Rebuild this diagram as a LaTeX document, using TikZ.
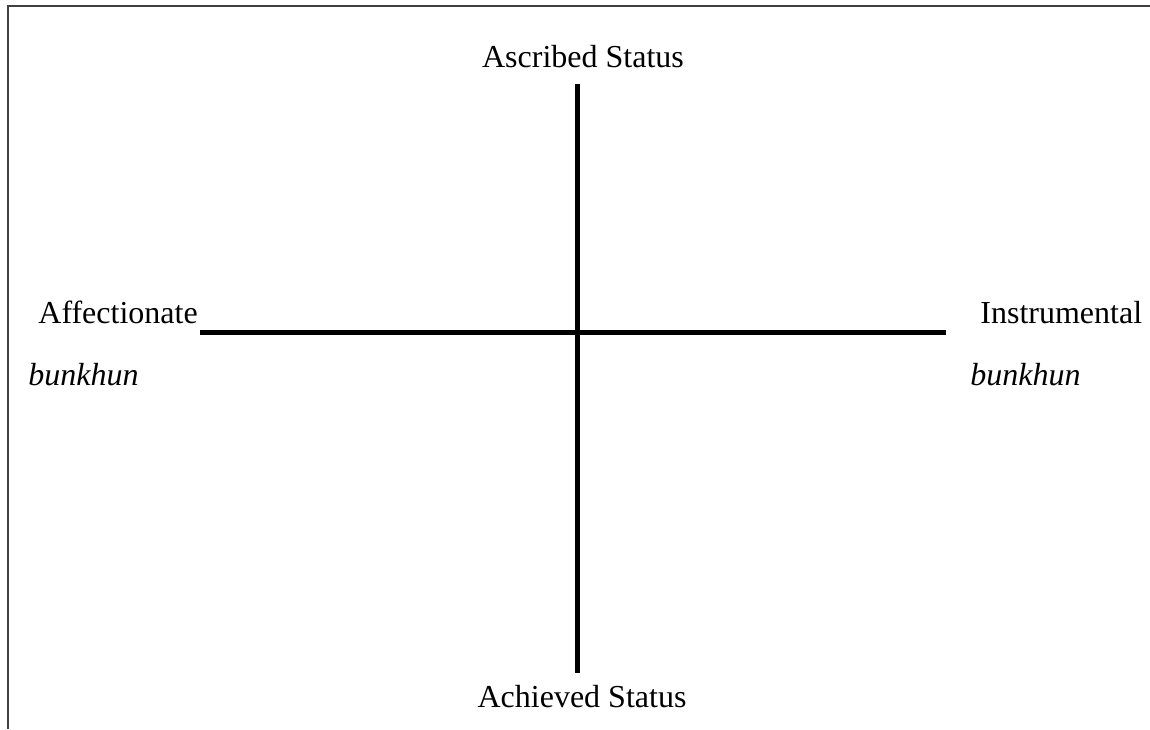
\documentclass[tikz,border=0pt]{standalone}
\usepackage{fontspec}
\setmainfont{Liberation Serif}
\usepackage{xcolor}
\usetikzlibrary{calc}
\definecolor{figink}{HTML}{000000}
\definecolor{figframe}{HTML}{404040}
\tikzset{
  every picture/.append style={font=\fontsize{16}{19}\selectfont},
  axisline/.style={line width=2.5pt,figink},
  axislabel/.style={inner sep=0pt,anchor=base,figink},
  sidelabel/.style={inner sep=0pt,anchor=base west,figink},
  framefig/.style={line width=1pt,figframe}
}

\begin{document}
\begin{tikzpicture}[x=0.5pt,y=-0.5pt]
    \useasboundingbox (0,0) rectangle (1150,729);
    \draw[framefig] (8,729) -- (8,6) -- (1150,6);
    % axis end points
    \coordinate (top) at (577,84);
    \coordinate (bottom) at (577,673);
    \coordinate (left) at (200,332);
    \coordinate (right) at (946,332);
    \draw[axisline] (top) -- (bottom);
    \draw[axisline] (left) -- (right);
    \node[axislabel] (ascribed) at (583,67) {Ascribed Status};
    \node[axislabel] (achieved) at (582,707) {Achieved Status};
    \node[sidelabel] (affect) at (38,323) {Affectionate};
    \node[sidelabel] (instr) at (980,323) {Instrumental};
    \node[sidelabel] (bunleft) at (28,385) {\itshape bunkhun};
    \node[sidelabel] (bunright) at (970,385) {\itshape bunkhun};
  \end{tikzpicture}
\end{document}
